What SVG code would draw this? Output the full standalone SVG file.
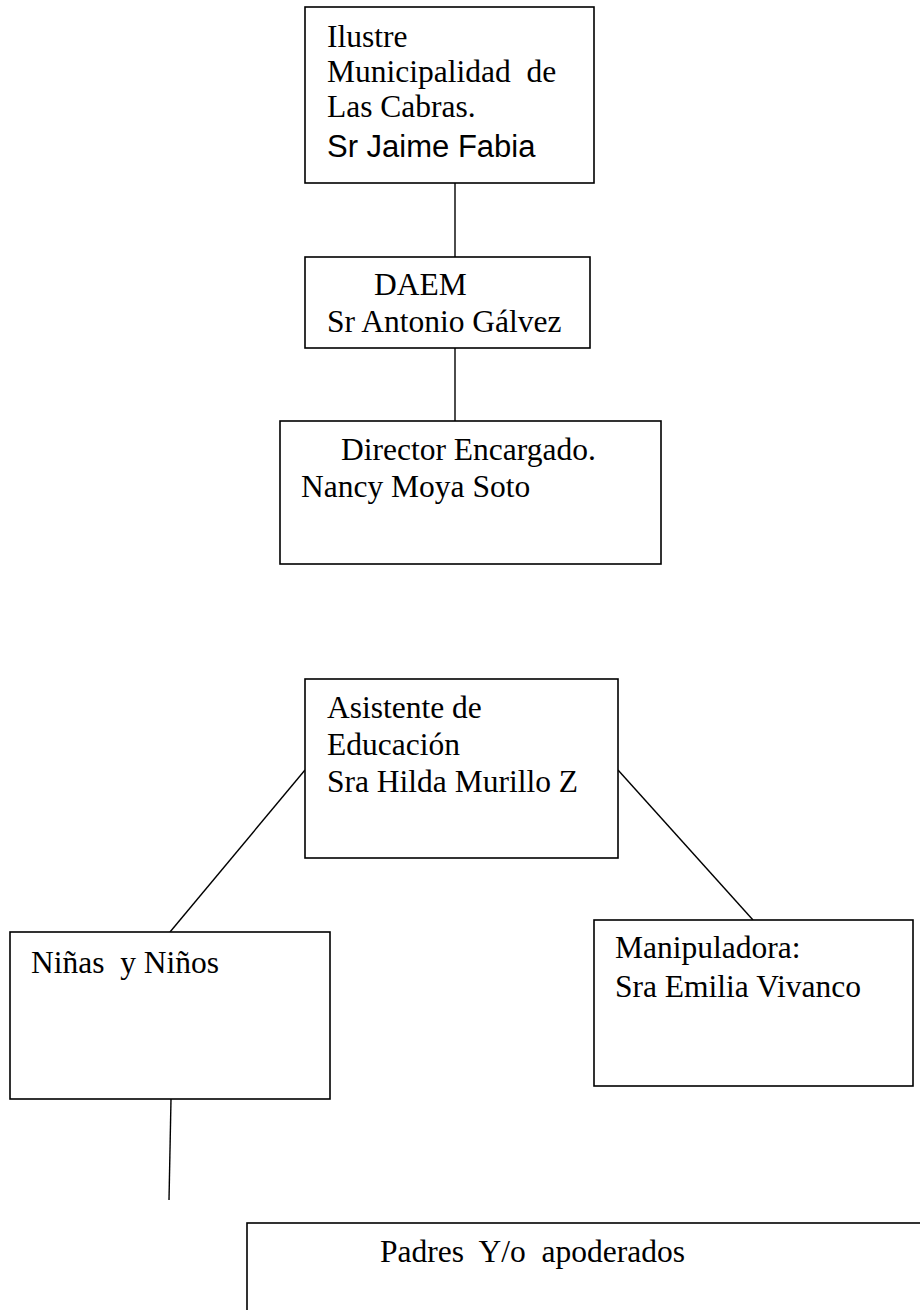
<svg xmlns="http://www.w3.org/2000/svg" width="920" height="1310" viewBox="0 0 920 1310">
<style>
.box{fill:#fff;stroke:#000;stroke-width:1.6}
.t{font-family:"Liberation Serif","Times New Roman",serif;font-size:31.5px;fill:#000}
.a{font-family:"Liberation Sans",Arial,sans-serif;font-size:31px;fill:#000}
.c{stroke:#000;stroke-width:1.4;fill:none}
</style>
<rect width="920" height="1310" fill="#fff"/>
<g id="connectors">
<line class="c" x1="455" y1="183" x2="455" y2="257"/>
<line class="c" x1="455" y1="348" x2="455" y2="421"/>
<line class="c" x1="305" y1="770" x2="170" y2="932"/>
<line class="c" x1="618" y1="770" x2="753" y2="920"/>
<line class="c" x1="171" y1="1099" x2="169" y2="1200"/>
</g>
<g id="municipalidad">
<rect class="box" x="305" y="7" width="289" height="176"/>
<text class="t" x="327" y="47">Ilustre</text>
<text class="t" x="327" y="82" xml:space="preserve">Municipalidad  de</text>
<text class="t" x="327" y="117">Las Cabras.</text>
<text class="a" x="327" y="157">Sr Jaime Fabia</text>
</g>
<g id="daem">
<rect class="box" x="305" y="257" width="285" height="91"/>
<text class="t" x="374" y="295">DAEM</text>
<text class="t" x="327" y="332">Sr Antonio Gálvez</text>
</g>
<g id="director">
<rect class="box" x="280" y="421" width="381" height="143"/>
<text class="t" x="341" y="460">Director Encargado.</text>
<text class="t" x="301" y="497">Nancy Moya Soto</text>
</g>
<g id="asistente">
<rect class="box" x="305" y="679" width="313" height="179"/>
<text class="t" x="327" y="718">Asistente de</text>
<text class="t" x="327" y="755">Educación</text>
<text class="t" x="327" y="792">Sra Hilda Murillo Z</text>
</g>
<g id="ninos">
<rect class="box" x="10" y="932" width="320" height="167"/>
<text class="t" x="31" y="973" xml:space="preserve">Niñas  y Niños</text>
</g>
<g id="manipuladora">
<rect class="box" x="594" y="920" width="319" height="166"/>
<text class="t" x="615" y="958">Manipuladora:</text>
<text class="t" x="615" y="997">Sra Emilia Vivanco</text>
</g>
<g id="padres">
<rect class="box" x="247" y="1223" width="700" height="120"/>
<text class="t" x="380" y="1262" xml:space="preserve">Padres  Y/o  apoderados</text>
</g>
</svg>
